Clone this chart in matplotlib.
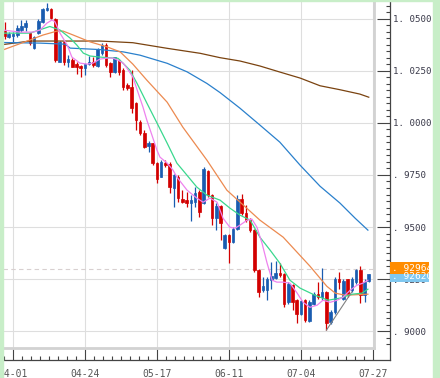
"""Daily candlestick chart with moving averages (04-01 .. 07-27)."""

import matplotlib
matplotlib.use("Agg")
import matplotlib.pyplot as plt
import matplotlib.transforms as mtransforms
import numpy as np
from matplotlib.lines import Line2D
from matplotlib.patches import Rectangle
from matplotlib.ticker import FixedLocator, FuncFormatter, MultipleLocator

# OHLC, one entry per trading day, starting two sessions before 04-01
opens = [1.0442, 1.0414, 1.0418, 1.0423, 1.0447, 1.0463, 1.0431, 1.0359, 1.0434, 1.0487,
         1.0543, 1.0546, 1.0498, 1.0294, 1.0390, 1.0293, 1.0302, 1.0283, 1.0274, 1.0262,
         1.0283, 1.0294, 1.0274, 1.0335, 1.0375, 1.0287, 1.0246, 1.0302, 1.0254, 1.0182,
         1.0174, 1.0096, 1.0006, 0.9951, 0.9889, 0.9903, 0.9808, 0.9742, 0.9808, 0.9805,
         0.9687, 0.9741, 0.9637, 0.9632, 0.9613, 0.9621, 0.9669, 0.9616, 0.9770, 0.9653,
         0.9541, 0.9600, 0.9397, 0.9461, 0.9428, 0.9488, 0.9637, 0.9568, 0.9536, 0.9485,
         0.9292, 0.9196, 0.9199, 0.9244, 0.9257, 0.9279, 0.9275, 0.9140, 0.9220, 0.9151,
         0.9084, 0.9151, 0.9048, 0.9129, 0.9180, 0.9164, 0.9188, 0.9044, 0.9092, 0.9248,
         0.9156, 0.9248, 0.9196, 0.9236, 0.9292, 0.9172, 0.9241]
highs = [1.0485, 1.0439, 1.0439, 1.0471, 1.0495, 1.0495, 1.0439, 1.0418, 1.0498, 1.0551,
         1.0578, 1.0551, 1.0503, 1.0394, 1.0395, 1.0326, 1.0311, 1.0293, 1.0278, 1.0288,
         1.0322, 1.0317, 1.0360, 1.0384, 1.0383, 1.0294, 1.0318, 1.0306, 1.0262, 1.0190,
         1.0254, 1.0102, 1.0014, 0.9966, 0.9914, 0.9905, 0.9813, 0.9821, 0.9821, 0.9813,
         0.9757, 0.9749, 0.9677, 0.9669, 0.9653, 0.9693, 0.9677, 0.9789, 0.9773, 0.9658,
         0.9613, 0.9605, 0.9465, 0.9465, 0.9501, 0.9653, 0.9661, 0.9605, 0.9541, 0.9488,
         0.9296, 0.9260, 0.9260, 0.9331, 0.9337, 0.9325, 0.9279, 0.9236, 0.9228, 0.9156,
         0.9151, 0.9156, 0.9148, 0.9188, 0.9236, 0.9301, 0.9191, 0.9100, 0.9260, 0.9284,
         0.9248, 0.9252, 0.9260, 0.9296, 0.9312, 0.9248, 0.9276]
lows = [1.0403, 1.0407, 1.0390, 1.0414, 1.0439, 1.0443, 1.0375, 1.0354, 1.0427, 1.0479,
        1.0540, 1.0498, 1.0294, 1.0293, 1.0278, 1.0270, 1.0269, 1.0235, 1.0222, 1.0230,
        1.0278, 1.0269, 1.0270, 1.0326, 1.0270, 1.0222, 1.0238, 1.0230, 1.0158, 1.0158,
        1.0046, 0.9966, 0.9942, 0.9878, 0.9861, 0.9797, 0.9712, 0.9738, 0.9788, 0.9663,
        0.9597, 0.9621, 0.9615, 0.9597, 0.9529, 0.9597, 0.9549, 0.9610, 0.9645, 0.9509,
        0.9485, 0.9437, 0.9392, 0.9327, 0.9421, 0.9485, 0.9557, 0.9525, 0.9477, 0.9284,
        0.9164, 0.9188, 0.9148, 0.9201, 0.9249, 0.9260, 0.9116, 0.9129, 0.9103, 0.9039,
        0.9076, 0.9044, 0.9044, 0.9124, 0.9156, 0.9148, 0.9004, 0.9036, 0.9084, 0.9204,
        0.9148, 0.9164, 0.9188, 0.9228, 0.9134, 0.9140, 0.9235]
closes = [1.0418, 1.0426, 1.0427, 1.0455, 1.0466, 1.0479, 1.0386, 1.0414, 1.0491, 1.0546,
          1.0551, 1.0503, 1.0302, 1.0390, 1.0293, 1.0307, 1.0270, 1.0269, 1.0262, 1.0283,
          1.0294, 1.0278, 1.0354, 1.0375, 1.0278, 1.0246, 1.0315, 1.0246, 1.0174, 1.0166,
          1.0072, 1.0014, 0.9950, 0.9884, 0.9905, 0.9807, 0.9733, 0.9812, 0.9797, 0.9693,
          0.9749, 0.9641, 0.9621, 0.9613, 0.9629, 0.9664, 0.9573, 0.9781, 0.9653, 0.9541,
          0.9600, 0.9517, 0.9461, 0.9428, 0.9488, 0.9637, 0.9565, 0.9533, 0.9485, 0.9292,
          0.9188, 0.9215, 0.9252, 0.9263, 0.9279, 0.9268, 0.9132, 0.9228, 0.9140, 0.9084,
          0.9143, 0.9052, 0.9140, 0.9180, 0.9164, 0.9188, 0.9039, 0.9092, 0.9252, 0.9236,
          0.9241, 0.9180, 0.9248, 0.9292, 0.9172, 0.9236, 0.9272]
first_session = -2  # session number of the first candle (04-01 is session 0)

# moving averages: (session, value)
ma_pink_x = [-2.4, 1.6, 4.7, 6.4, 8.0, 9.2, 9.9, 11.1, 12.8, 13.9, 15.8, 17.5, 18.9, 20.5, 22.2,
             23.6, 24.8, 26.0, 26.9, 28.3, 29.5, 30.7, 31.6, 32.8, 34.0, 34.7, 36.4, 37.8, 38.7,
             41.1, 43.4, 44.9, 46.5, 48.2, 49.6, 51.2, 52.4, 53.6, 55.3, 56.4, 57.6, 58.8, 60.0,
             61.2, 62.3, 63.8, 65.4, 67.1, 68.5, 70.1, 71.8, 73.2, 74.9, 76.5, 77.9, 79.6, 81.2,
             82.6, 83.8]
ma_pink = [1.0447, 1.0437, 1.0437, 1.0447, 1.0480, 1.0495, 1.0487, 1.0432, 1.0375, 1.0317,
           1.0288, 1.0283, 1.0288, 1.0307, 1.0312, 1.0312, 1.0302, 1.0288, 1.0264, 1.0221,
           1.0148, 1.0076, 1.0014, 0.9942, 0.9869, 0.9836, 0.9807, 0.9773, 0.9740, 0.9677,
           0.9639, 0.9619, 0.9639, 0.9619, 0.9542, 0.9499, 0.9494, 0.9509, 0.9533, 0.9538,
           0.9499, 0.9422, 0.9326, 0.9244, 0.9235, 0.9235, 0.9230, 0.9182, 0.9138, 0.9114,
           0.9124, 0.9148, 0.9138, 0.9148, 0.9162, 0.9196, 0.9220, 0.9230, 0.9244]
ma_green_x = [-2.4, 4.0, 8.7, 11.1, 13.5, 15.1, 16.6, 18.2, 20.5, 24.8, 26.0, 27.6, 29.3, 31.6,
              34.0, 36.4, 38.7, 40.1, 43.4, 45.8, 48.9, 51.2, 53.6, 56.0, 58.3, 60.7, 63.0,
              65.4, 67.8, 71.3, 74.4, 77.2, 80.1, 82.4, 83.8]
ma_green = [1.0432, 1.0432, 1.0464, 1.0447, 1.0408, 1.0374, 1.0336, 1.0322, 1.0317, 1.0311,
            1.0287, 1.0254, 1.0190, 1.0096, 1.0000, 0.9903, 0.9807, 0.9773, 0.9692, 0.9653,
            0.9629, 0.9591, 0.9557, 0.9533, 0.9451, 0.9389, 0.9326, 0.9244, 0.9206, 0.9172,
            0.9148, 0.9158, 0.9177, 0.9182, 0.9201]
ma_orange_x = [-2.4, 4.0, 7.1, 10.4, 11.8, 14.2, 18.2, 22.2, 25.3, 28.3, 31.6, 36.4, 40.1,
               45.8, 50.5, 58.3, 63.8, 70.1, 74.1, 76.1, 78.4, 83.8]
ma_orange = [1.0351, 1.0399, 1.0423, 1.0442, 1.0442, 1.0423, 1.0390, 1.0366, 1.0342, 1.0283,
             1.0206, 1.0100, 0.9980, 0.9821, 0.9677, 0.9533, 0.9451, 0.9312, 0.9215, 0.9182,
             0.9172, 0.9177]
ma_blue_x = [-2.4, 6.4, 12.3, 13.5, 20.5, 26.0, 30.0, 36.4, 41.1, 45.8, 48.9, 53.6, 58.3,
             63.0, 67.8, 72.5, 77.2, 80.8, 83.8]
ma_blue = [1.0387, 1.0384, 1.0379, 1.0360, 1.0353, 1.0342, 1.0326, 1.0287, 1.0246, 1.0190,
           1.0146, 1.0071, 0.9990, 0.9908, 0.9797, 0.9696, 0.9615, 0.9542, 0.9485]
ma_brown_x = [-2.4, 4.0, 15.8, 20.5, 28.3, 36.4, 44.2, 48.9, 53.6, 58.3, 63.0, 67.8, 72.5,
              77.2, 81.9, 84.0]
ma_brown = [1.0377, 1.0394, 1.0394, 1.0394, 1.0386, 1.0359, 1.0335, 1.0314, 1.0298, 1.0274,
            1.0245, 1.0216, 1.0179, 1.0160, 1.0139, 1.0124]

trend_x = [74, 80]
trend_y = [0.9004, 0.9188]

last_price = 0.92964
last_label = ". 92964"
other_price = 0.9262
other_label = ". 92620"

date_ticks = [0, 17, 34, 51, 68, 85]
date_labels = ["04-01", "04-24", "05-17", "06-11", "07-04", "07-27"]
price_ticks = [0.900, 0.925, 0.950, 0.975, 1.000, 1.025, 1.050]

UP = "#1a5cb0"
DOWN = "#d20000"
MONO = "DejaVu Sans Mono"


def price_fmt(v, _pos):
    s = f"{v:.4f}"
    if s.startswith("0"):
        return ". " + s[2:]
    return s[:2] + " " + s[2:]


def main():
    fig = plt.figure(figsize=(4.4, 3.78), dpi=100)
    ax = fig.add_axes([3 / 440, 30 / 378, 371 / 440, 347 / 378])

    x = np.arange(len(opens)) + first_session
    o, h, l, c = map(np.asarray, (opens, highs, lows, closes))
    cols = np.where(c >= o, UP, DOWN)

    ax.vlines(x, l, h, colors=cols, lw=0.9, zorder=2)
    ax.bar(x, np.abs(c - o), bottom=np.minimum(o, c), width=0.6,
           color=cols, edgecolor=cols, lw=0.5, zorder=3)

    ax.plot(ma_brown_x, ma_brown, color="#7a4310", lw=0.9, zorder=4)
    ax.plot(ma_blue_x, ma_blue, color="#2a80cc", lw=0.9, zorder=4)
    ax.plot(ma_orange_x, ma_orange, color="#ec8a50", lw=0.9, zorder=4)
    ax.plot(ma_green_x, ma_green, color="#3ad88e", lw=0.9, zorder=4)
    ax.plot(ma_pink_x, ma_pink, color="#ee82ee", lw=0.9, zorder=4)
    ax.plot(trend_x, trend_y, color="#808080", lw=0.8, zorder=4)

    ax.axhline(last_price, color="#d8d0d0", lw=0.8, ls=(0, (4, 3)), zorder=1)

    ax.set_xlim(-2.36, 85.24)
    ax.set_ylim(0.89183, 1.05865)

    # axes / ticks
    for side in ("top", "left"):
        ax.spines[side].set_visible(False)
    ax.spines["right"].set_position(("outward", 11.5))
    ax.spines["bottom"].set_position(("outward", 8.6))
    ax.spines["right"].set_color("none")
    ax.spines["bottom"].set_color("none")

    ax.yaxis.tick_right()
    ax.yaxis.set_major_locator(FixedLocator(price_ticks))
    ax.yaxis.set_minor_locator(MultipleLocator(0.025 / 8))
    ax.yaxis.set_major_formatter(FuncFormatter(price_fmt))
    ax.xaxis.set_major_locator(FixedLocator(date_ticks))
    ax.xaxis.set_minor_locator(MultipleLocator(17 / 8))
    ax.set_xticklabels(date_labels)

    ax.tick_params(axis="y", which="major", direction="in", length=9.4, width=0.8,
                   color="#444444", labelsize=6.6, labelcolor="#3a3a4a", pad=2.5)
    ax.tick_params(axis="y", which="minor", direction="in", length=3.0, width=0.8,
                   color="#444444")
    ax.tick_params(axis="x", which="major", direction="in", length=7.6, width=0.8,
                   color="#444444", labelsize=7, labelcolor="#555555", pad=6.5)
    ax.tick_params(axis="x", which="minor", direction="in", length=3.0, width=0.8,
                   color="#444444")
    for lab in ax.get_xticklabels() + ax.get_yticklabels():
        lab.set_family(MONO)

    ax.grid(True, which="major", color="#dedede", lw=0.8)
    ax.set_axisbelow(True)

    # light frame on the right and bottom of the price area
    ax.plot([1, 1], [0, 1], transform=ax.transAxes, color="#d2d2d2", lw=2.0,
            clip_on=False, zorder=5)
    ax.plot([0, 1], [0, 0], transform=ax.transAxes, color="#d2d2d2", lw=2.0,
            clip_on=False, zorder=5)

    # scale lines
    fig.add_artist(Line2D([390 / 440, 390 / 440], [18 / 378, 1], color="#444444", lw=0.9))
    fig.add_artist(Line2D([0, 390 / 440], [18 / 378, 18 / 378], color="#444444", lw=0.9))

    # price boxes on the scale
    trans = mtransforms.blended_transform_factory(fig.transFigure, ax.transData)
    box_h = 0.0057
    for price, label, face in ((other_price, other_label, "#80c8f0"),
                               (last_price + 0.0006, last_label, "#ff8c00")):
        fig.add_artist(Rectangle((390 / 440, price - box_h / 2), 39 / 440, box_h,
                                 transform=trans, facecolor=face, edgecolor="none",
                                 zorder=6))
        fig.text(392 / 440, price, label, transform=trans, va="center", ha="left",
                 fontsize=6.8, family=MONO, color="white", zorder=7)

    # green page border
    border = "#c8eec8"
    fig.add_artist(Rectangle((0, 0), 3 / 440, 1, transform=fig.transFigure,
                             color=border, zorder=10))
    fig.add_artist(Rectangle((433 / 440, 0), 7 / 440, 1, transform=fig.transFigure,
                             color=border, zorder=10))
    fig.add_artist(Rectangle((0, 377 / 378), 1, 1 / 378, transform=fig.transFigure,
                             color=border, zorder=10))

    fig.savefig("out.png", dpi=100)


if __name__ == "__main__":
    main()
